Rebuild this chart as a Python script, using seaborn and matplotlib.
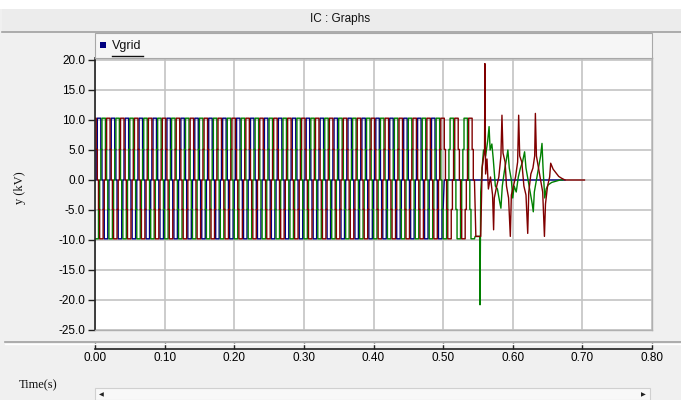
import numpy as np
import pandas as pd
import matplotlib
matplotlib.use("Agg")
import matplotlib.pyplot as plt
from matplotlib.patches import Rectangle
from matplotlib.lines import Line2D
import seaborn as sns

# ---------------- data ----------------
FREQ_HZ = 50
# one cycle of the stepped (multilevel) grid voltage, 12 equal steps, kV
STEP_LEVELS = [0.0, 5.1, 10.3, 10.3, 10.3, 5.1, 0.0, -4.9, -9.8, -9.8, -9.8, -4.9]
PHASE_SHIFT_STEPS = {"blue": 0, "red": 4, "green": 8}
STEADY_END = {"blue": 0.5016, "red": 0.5450, "green": 0.5460}

blue_tail_t = [0.5016, 0.6750]
blue_tail_v = [0.0, 0.0]

red_tail_t = [0.5470, 0.5540, 0.5560, 0.5595, 0.5600, 0.5610, 0.5630, 0.5650, 0.5680,
              0.5710, 0.5725, 0.5735, 0.5770, 0.5800, 0.5830, 0.5845, 0.5860, 0.5890,
              0.5910, 0.5940, 0.5965, 0.5980, 0.6010, 0.6040, 0.6070, 0.6085, 0.6100,
              0.6130, 0.6160, 0.6190, 0.6215, 0.6230, 0.6260, 0.6290, 0.6315, 0.6325,
              0.6340, 0.6370, 0.6400, 0.6430, 0.6455, 0.6470, 0.6500, 0.6530, 0.6545,
              0.6580, 0.6620, 0.6660, 0.6700, 0.6750, 0.7030]
red_tail_v = [-9.4, -9.4, 2.0, 5.0, 19.4, 1.0, 3.5, -1.5, 0.5,
              -2.5, -8.3, -3.0, -1.0, 0.5, 4.0, 10.8, 4.5, 3.0,
              -1.0, -3.0, -9.4, -2.5, -1.0, 0.5, 3.0, 10.8, 4.0,
              3.0, -1.0, -2.5, -8.9, -2.0, 1.0, 2.0, 4.0, 11.1,
              4.0, 2.0, 0.0, -2.0, -9.4, -4.0, -1.0, 0.5, 2.8,
              1.8, 1.2, 0.6, 0.3, 0.0, 0.0]

green_tail_t = [0.5460, 0.5525, 0.5530, 0.5540, 0.5560, 0.5580, 0.5610, 0.5640, 0.5660,
                0.5675, 0.5700, 0.5720, 0.5750, 0.5780, 0.5810, 0.5830, 0.5850, 0.5880,
                0.5910, 0.5930, 0.5950, 0.5980, 0.6000, 0.6020, 0.6050, 0.6080, 0.6110,
                0.6140, 0.6170, 0.6190, 0.6220, 0.6250, 0.6280, 0.6295, 0.6310, 0.6340,
                0.6370, 0.6400, 0.6420, 0.6435, 0.6460, 0.6480, 0.6510, 0.6560, 0.6620,
                0.6680, 0.6720]
green_tail_v = [-9.4, -9.4, -20.8, -2.0, 2.0, 5.0, 4.0, 6.5, 8.9,
                5.0, 6.0, 3.5, -1.0, -1.5, -3.5, -4.7, -1.0, 1.5,
                3.5, 5.0, 2.0, 0.0, -3.0, -1.0, -2.0, 0.5, 2.0,
                3.0, 4.7, 2.0, 0.0, -2.0, -4.0, -5.3, -2.0, 0.0,
                2.0, 4.0, 6.1, 2.0, -3.0, -1.5, -0.8, -0.4, -0.2,
                0.0, 0.0]

x_ticks = [0.0, 0.1, 0.2, 0.3, 0.4, 0.5, 0.6, 0.7, 0.8]
y_ticks = [20.0, 15.0, 10.0, 5.0, 0.0, -5.0, -10.0, -15.0, -20.0, -25.0]

COLORS = {"blue": "#000080", "red": "#800000", "green": "#008000"}


def steady(name):
    dt = 1.0 / (FREQ_HZ * len(STEP_LEVELS))
    n = int(STEADY_END[name] / dt)
    ts, vs = [], []
    for k in range(n):
        v = STEP_LEVELS[(k + PHASE_SHIFT_STEPS[name]) % len(STEP_LEVELS)]
        ts += [k * dt, (k + 1) * dt]
        vs += [v, v]
    return ts, vs


tails = {"blue": (blue_tail_t, blue_tail_v),
         "red": (red_tail_t, red_tail_v),
         "green": (green_tail_t, green_tail_v)}

# ---------------- figure ----------------
W, H = 681, 400
fig = plt.figure(figsize=(W / 100, H / 100), dpi=100)
fig.patch.set_facecolor("#f0f0f0")

def fx(px):
    return px / W

def fy(py):
    return 1 - py / H

# top white strip and title band
fig.patches.append(Rectangle((0, fy(9)), 1, 9 / H, transform=fig.transFigure,
                             facecolor="white", edgecolor="none"))
fig.patches.append(Rectangle((fx(2), fy(32)), 1, 23 / H, transform=fig.transFigure,
                             facecolor="#ececec", edgecolor="none"))
fig.lines.append(Line2D([fx(2), 1], [fy(32), fy(32)], transform=fig.transFigure,
                        color="#a0a0a0", lw=1.2))
fig.text(0.5, fy(19), "IC : Graphs", ha="center", va="center",
         fontsize=8.5, family="Liberation Sans", color="#111111")

# legend bar
fig.patches.append(Rectangle((fx(95), fy(58)), fx(652 - 95), 25 / H, transform=fig.transFigure,
                             facecolor="#f6f6f6", edgecolor="#a8a8a8", lw=0.8))
fig.patches.append(Rectangle((fx(100), fy(48)), fx(6), 6 / H, transform=fig.transFigure,
                             facecolor="#000080", edgecolor="none"))
fig.text(fx(112), fy(46), "Vgrid", ha="left", va="center", fontsize=9,
         family="Liberation Sans", color="#111111")
fig.lines.append(Line2D([fx(112), fx(143)], [fy(55.5), fy(55.5)], transform=fig.transFigure,
                        color="#111111", lw=1.0))

# main plot
L, R, T, B = 95, 652, 58.2, 330
ax = fig.add_axes([fx(L), fy(B), fx(R - L), (B - T) / H])
ax.set_facecolor("white")

for name in ["blue", "green", "red"]:
    ts, vs = steady(name)
    tt, tv = tails[name]
    df = pd.DataFrame({"t": ts + list(tt), "v": vs + list(tv)})
    sns.lineplot(data=df, x="t", y="v", ax=ax, sort=False, estimator=None,
                 color=COLORS[name], lw=1.0)

ax.set_xlim(0, 0.8)
ax.set_ylim(-25, 20.3)
ax.set_xticks(x_ticks)
ax.set_yticks(y_ticks)
ax.set_yticklabels([f"{v:.1f}" for v in y_ticks], family="Liberation Sans", fontsize=8.5)
ax.tick_params(axis="x", bottom=False, labelbottom=False)
ax.tick_params(axis="y", direction="out", length=5, width=1, color="#222222", pad=2)
ax.grid(True, color="#c4c4c4", lw=1.2)
ax.set_axisbelow(True)
ax.set_xlabel("")
ax.set_ylabel("")
for s in ["top", "right", "bottom"]:
    ax.spines[s].set_color("#b0b0b0")
    ax.spines[s].set_linewidth(1.0)
ax.spines["left"].set_color("#222222")
ax.spines["left"].set_linewidth(1.2)

fig.text(fx(20), fy(188), "y (kV)", rotation=90, ha="center", va="center",
         fontsize=9, family="Liberation Serif", color="#111111")

# separator line
fig.lines.append(Line2D([fx(5), 1], [fy(342), fy(342)], transform=fig.transFigure,
                        color="#a0a0a0", lw=1.2))
fig.lines.append(Line2D([fx(5), 1], [fy(343.5), fy(343.5)], transform=fig.transFigure,
                        color="white", lw=1.0))

# x ruler
ax2 = fig.add_axes([fx(L), fy(349), fx(R - L), 0.0001])
ax2.set_xlim(0, 0.8)
ax2.set_xticks(x_ticks)
ax2.set_xticklabels([f"{v:.2f}" for v in x_ticks], family="Liberation Sans", fontsize=8.5)
ax2.set_yticks([])
ax2.patch.set_alpha(0)
for s in ["top", "left", "right"]:
    ax2.spines[s].set_visible(False)
ax2.spines["bottom"].set_color("#222222")
ax2.spines["bottom"].set_linewidth(1.2)
ax2.tick_params(axis="x", direction="in", length=4, width=1, color="#222222", pad=2.5)

fig.text(fx(38), fy(385), "Time(s)", ha="center", va="center",
         fontsize=9, family="Liberation Serif", color="#111111")

# scrollbar
fig.patches.append(Rectangle((fx(95), fy(400)), fx(650 - 95), 12 / H, transform=fig.transFigure,
                             facecolor="#f8f8f8", edgecolor="#d0d0d0", lw=0.8))
fig.text(fx(101), fy(395), "\u25C0", ha="center", va="center", fontsize=4.5, color="#222222")
fig.text(fx(643), fy(395), "\u25B6", ha="center", va="center", fontsize=4.5, color="#222222")

fig.savefig("out.png", dpi=100, facecolor=fig.get_facecolor())
